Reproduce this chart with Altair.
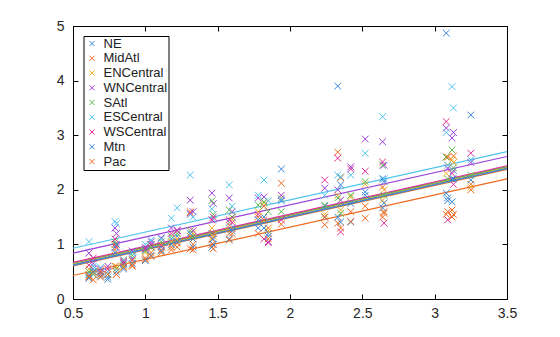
import altair as alt
import pandas as pd

series = ["NE", "MidAtl", "ENCentral", "WNCentral", "SAtl", "ESCentral", "WSCentral", "Mtn", "Pac"]
colors = ["#3a86d6", "#ee6a1f", "#f3ad2b", "#9b3fd8", "#5cb84f", "#50c4f0", "#df2f98", "#3a86d6", "#ee6a1f"]

X = [0.61, 0.64, 0.69, 0.74, 0.79, 0.80, 0.85, 0.91, 1.00, 1.04, 1.11, 1.18, 1.22, 1.31, 1.33,
     1.46, 1.47, 1.58, 1.60, 1.78, 1.82, 1.85, 1.94, 2.24, 2.33, 2.35, 2.42, 2.52, 2.64, 2.65,
     3.08, 3.09, 3.12, 3.13, 3.25]

y_NE = [0.45, 0.55, 0.48, 0.40, 0.95, 0.50, 0.65, 0.75, 0.90, 1.00, 0.95, 1.10, 1.15, 1.55, 1.10,
        1.20, 1.00, 1.40, 1.30, 1.30, 1.50, 1.20, 2.38, 1.70, 3.90, 2.09, 1.41, 1.96, 2.20, 1.76,
        4.87, 1.80, 2.20, 2.35, 3.37]
y_MidAtl = [0.40, 0.48, 0.45, 0.50, 1.00, 0.45, 0.70, 0.60, 0.75, 0.85, 0.90, 0.95, 1.02, 1.15, 1.00,
            1.10, 1.20, 1.20, 1.50, 1.50, 1.70, 1.30, 2.12, 1.36, 2.69, 2.22, 1.42, 1.48, 2.05, 1.57,
            2.60, 1.60, 1.50, 1.55, 2.10]
y_ENCentral = [0.55, 0.50, 0.52, 0.55, 0.90, 0.60, 0.60, 0.70, 0.85, 0.95, 1.00, 1.05, 1.10, 1.60, 1.20,
               1.30, 1.15, 1.35, 1.45, 1.60, 1.75, 1.25, 1.85, 1.55, 1.90, 1.63, 1.87, 2.10, 1.81, 2.00,
               2.30, 2.45, 2.55, 2.50, 2.05]
y_WNCentral = [0.84, 0.65, 0.55, 0.60, 1.30, 1.20, 0.68, 0.88, 0.95, 1.05, 1.12, 1.30, 1.26, 1.81, 1.60,
               1.94, 1.75, 1.85, 1.60, 1.85, 1.87, 1.05, 1.90, 2.03, 2.00, 1.81, 2.42, 2.93, 2.88, 2.45,
               3.13, 2.40, 2.95, 3.05, 2.50]
y_SAtl = [0.50, 0.45, 0.50, 0.45, 1.05, 0.55, 0.62, 0.80, 0.88, 0.95, 1.05, 1.15, 1.20, 1.25, 1.15,
          1.80, 1.55, 1.63, 1.50, 1.72, 1.78, 1.60, 1.60, 1.72, 1.85, 1.57, 1.90, 2.15, 2.45, 1.90,
          2.60, 2.20, 2.73, 2.40, 2.27]
y_ESCentral = [1.05, 0.60, 0.58, 0.50, 1.42, 1.38, 0.72, 0.85, 1.00, 1.08, 1.10, 1.48, 1.67, 2.27, 1.50,
               1.65, 1.45, 2.09, 1.70, 1.90, 2.18, 1.80, 1.83, 1.90, 2.27, 2.24, 2.27, 2.67, 3.34, 2.20,
               3.05, 2.45, 3.89, 3.50, 2.55]
y_WSCentral = [0.62, 0.75, 0.50, 0.55, 1.10, 0.95, 0.66, 0.72, 0.92, 1.00, 0.98, 1.20, 1.25, 1.58, 1.25,
               1.45, 1.50, 1.45, 1.40, 1.55, 1.10, 1.03, 1.45, 2.18, 2.58, 1.23, 2.38, 2.34, 2.51, 1.39,
               3.25, 1.45, 2.30, 2.10, 2.67]
y_Mtn = [0.38, 0.50, 0.42, 0.36, 0.85, 1.00, 0.55, 0.65, 0.70, 0.80, 0.88, 1.00, 1.05, 1.20, 0.95,
         0.95, 1.10, 1.10, 1.25, 1.45, 1.30, 1.15, 1.80, 1.50, 1.50, 1.41, 1.75, 1.90, 1.67, 2.15,
         1.94, 1.85, 1.78, 2.20, 2.18]
y_Pac = [0.42, 0.35, 0.40, 0.45, 0.60, 0.45, 0.58, 0.62, 0.72, 0.78, 0.85, 0.90, 0.95, 0.92, 0.90,
         1.00, 0.92, 1.08, 1.20, 1.20, 1.45, 1.10, 1.37, 1.50, 1.39, 1.30, 1.60, 1.70, 1.50, 1.60,
         1.55, 2.60, 1.63, 2.62, 2.00]

Y = [y_NE, y_MidAtl, y_ENCentral, y_WNCentral, y_SAtl, y_ESCentral, y_WSCentral, y_Mtn, y_Pac]

# fitted lines (common slope, series-specific intercepts)
intercepts = [0.335, 0.31, 0.35, 0.545, 0.36, 0.635, 0.375, 0.32, 0.135]
slope = 0.59
x_ends = [0.5, 3.5]

x_ticks = [0.5, 1, 1.5, 2, 2.5, 3, 3.5]
y_ticks = [0, 1, 2, 3, 4, 5]

rows = []
for s, ys in zip(series, Y):
    for xv, yv in zip(X, ys):
        rows.append({"series": s, "x": xv, "y": yv})
points_df = pd.DataFrame(rows)

line_rows = []
for s, b in zip(series, intercepts):
    for xe in x_ends:
        line_rows.append({"series": s, "x": xe, "b0": b, "b1": slope})
lines_df = pd.DataFrame(line_rows)

X_PATH = "M-1,-1L1,1M-1,1L1,-1"
xscale = alt.Scale(domain=[0.5, 3.5], nice=False, zero=False)
yscale = alt.Scale(domain=[0, 5], nice=False, zero=False)
cscale = alt.Scale(domain=series, range=colors)

points = alt.Chart(points_df).mark_point(
    shape=X_PATH, filled=False, size=45, strokeWidth=1, opacity=1
).encode(
    x=alt.X("x:Q", scale=xscale,
            axis=alt.Axis(orient="bottom", values=x_ticks, format="~g", ticks=False,
                          domain=False, grid=False, labelPadding=7, labelFlush=False,
                          labelOverlap=False, title=None)),
    y=alt.Y("y:Q", scale=yscale,
            axis=alt.Axis(orient="left", values=y_ticks, format="~g", ticks=False,
                          domain=False, grid=False, labelPadding=9, labelFlush=False,
                          labelOverlap=False, title=None)),
    color=alt.Color("series:N", scale=cscale, sort=series,
                    legend=alt.Legend(orient="none", legendX=10.5, legendY=10, title=None,
                                      strokeColor="black", fillColor="white", padding=1,
                                      symbolOffset=1,
                                      symbolType=X_PATH, symbolSize=26, symbolStrokeWidth=1,
                                      labelFontSize=13, labelFont="Liberation Sans",
                                      labelColor="#222222", rowPadding=0.75, labelOffset=5)),
)

lines = alt.Chart(lines_df).transform_calculate(
    yv="datum.b0 + datum.b1 * datum.x"
).mark_line(strokeWidth=1.2).encode(
    x=alt.X("x:Q", scale=xscale,
            axis=alt.Axis(orient="bottom", offset=-5, values=x_ticks, labels=False,
                          domain=False, grid=False, tickSize=5, tickColor="black",
                          title=None)),
    y=alt.Y("yv:Q", scale=yscale,
            axis=alt.Axis(orient="left", offset=-5, values=y_ticks, labels=False,
                          domain=False, grid=False, tickSize=5, tickColor="black",
                          title=None)),
    color=alt.Color("series:N", scale=cscale, legend=None),
    detail="series:N",
)

mirror = alt.Chart(lines_df).transform_calculate(
    yv="datum.b0 + datum.b1 * datum.x"
).mark_line(opacity=0).encode(
    x=alt.X("x:Q", scale=xscale,
            axis=alt.Axis(orient="top", offset=-5, values=x_ticks, labels=False,
                          domain=False, grid=False, tickSize=5, tickColor="black",
                          title=None)),
    y=alt.Y("yv:Q", scale=yscale,
            axis=alt.Axis(orient="right", offset=-5, values=y_ticks, labels=False,
                          domain=False, grid=False, tickSize=5, tickColor="black",
                          title=None)),
    detail="series:N",
)

chart = alt.layer(lines, points, mirror).resolve_axis(
    x="independent", y="independent"
).resolve_legend(color="independent").properties(
    width=434, height=273,
    autosize=alt.AutoSizeParams(type="none"),
    padding={"left": 73, "top": 26, "right": 53, "bottom": 38},
).configure_view(
    stroke="black", strokeWidth=1
).configure_axis(
    labelFont="Liberation Sans", labelFontSize=14, labelColor="#262626"
)

chart.save("out.html", embed_options={"renderer": "svg", "actions": False})
